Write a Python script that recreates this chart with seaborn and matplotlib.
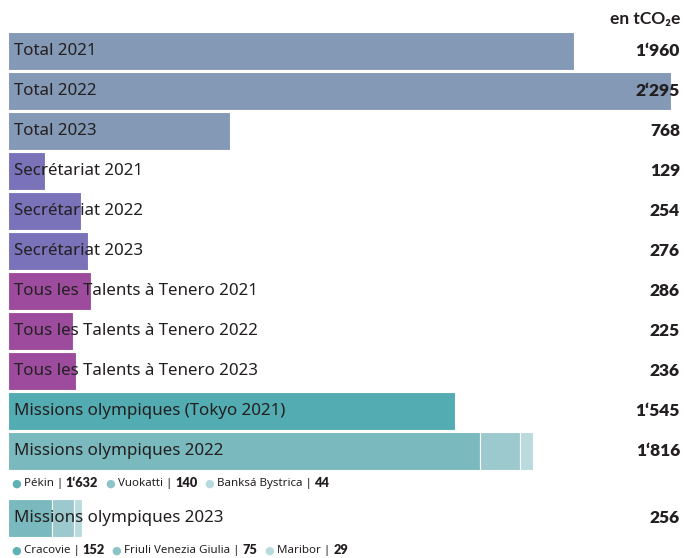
import matplotlib
matplotlib.use("Agg")
import matplotlib.pyplot as plt
import matplotlib.transforms as mtransforms
import seaborn as sns
import pandas as pd
import numpy as np

# ---- data ----
labels = [
    "Total 2021", "Total 2022", "Total 2023",
    "Secrétariat 2021", "Secrétariat 2022", "Secrétariat 2023",
    "Tous les Talents à Tenero 2021", "Tous les Talents à Tenero 2022",
    "Tous les Talents à Tenero 2023",
    "Missions olympiques (Tokyo 2021)", "Missions olympiques 2022",
    "Missions olympiques 2023",
]
totals = [1960, 2295, 768, 129, 254, 276, 286, 225, 236, 1545, 1816, 256]
value_texts = ["1‘960", "2‘295", "768", "129", "254", "276", "286", "225",
               "236", "1‘545", "1‘816", "256"]
groups = ["Total"] * 3 + ["Secrétariat"] * 3 + ["Talents"] * 3 + ["Tokyo", "M2022", "M2023"]

m2022_names = ["Pékin", "Vuokatti", "Banksá Bystrica"]
m2022_values = [1632, 140, 44]
m2022_texts = ["1‘632", "140", "44"]
m2023_names = ["Cracovie", "Friuli Venezia Giulia", "Maribor"]
m2023_values = [152, 75, 29]
m2023_texts = ["152", "75", "29"]

unit_label = "en tCO₂e"

# ---- styling ----
sns.set_theme(style="white")
plt.rcParams["font.family"] = ["Noto Sans", "DejaVu Sans"]
BOLD = ["Lato", "DejaVu Sans"]

row_pos = [0, 1, 2, 3, 4, 5, 6, 7, 8, 9, 10, 11.675]
legend_pos = [10.825, 12.5]
header_pos = -0.8

group_colors = {
    "Total": "#8499b6",
    "Secrétariat": "#7a73b9",
    "Talents": "#9d4c9d",
    "Tokyo": "#52acb2",
    "M2022": "#7ab9bd",
    "M2023": "#7ab9bd",
}
seg_colors = ["#7ab9bd", "#9cc9cd", "#badbde"]
dot_colors = ["#5fb1b6", "#8cc3c7", "#b8dade"]
text_dark = "#231f20"

fig = plt.figure(figsize=(6.84, 5.58), dpi=100)
ax = fig.add_axes([0, 0, 1, 1])

# main bars (non-stacked rows) via seaborn
df = pd.DataFrame({"y": row_pos, "value": totals, "group": groups, "label": labels})
df_main = df.iloc[:10]
sns.barplot(data=df_main, x="value", y="y", hue="group", palette=group_colors,
            orient="y", native_scale=True, width=0.93, dodge=False, saturation=1,
            edgecolor="white", linewidth=0.8, legend=False, ax=ax)

# stacked rows
for ypos, vals in [(row_pos[10], m2022_values), (row_pos[11], m2023_values)]:
    left = 0
    for v, c in zip(vals, seg_colors):
        ax.barh(ypos, v, left=left, height=0.93, color=c, edgecolor="white", linewidth=0.8)
        left += v

s = 0.289  # px per unit
ax.set_xlim(-8 / s, 676 / s)
ax.set_ylim(12.675, -1.275)
ax.axis("off")

trans = mtransforms.blended_transform_factory(ax.transAxes, ax.transData)
for lab, vt, yp in zip(labels, value_texts, row_pos):
    ax.text(14 / 684, yp, lab, transform=trans, ha="left", va="center",
            fontsize=12.2, color=text_dark)
    ax.text(680 / 684, yp, vt, transform=trans, ha="right", va="center",
            fontsize=12.5, fontweight="heavy", color=text_dark, family=BOLD)

ax.text(680 / 684, header_pos, unit_label, transform=trans, ha="right", va="center",
        fontsize=12.5, fontweight="bold", color=text_dark, family=BOLD)

# legends under stacked rows
def draw_legend(ypos, names, texts):
    prev = None
    for i, (n, t) in enumerate(zip(names, texts)):
        if prev is None:
            dot = ax.text(11 / 684, ypos, "●", transform=trans, ha="left", va="center",
                          fontsize=8, color=dot_colors[i], family=["DejaVu Sans"])
        else:
            dot = ax.annotate("●", xy=(1, 0), xycoords=prev, xytext=(5, 0),
                              textcoords="offset points", ha="left", va="bottom",
                              fontsize=8, color=dot_colors[i], family=["DejaVu Sans"])
        nm = ax.annotate(n + " | ", xy=(1, 0), xycoords=dot, xytext=(2, 0),
                         textcoords="offset points", ha="left", va="bottom",
                         fontsize=8.3, color=text_dark)
        val = ax.annotate(t, xy=(1, 0), xycoords=nm, xytext=(0, 0),
                          textcoords="offset points", ha="left", va="bottom",
                          fontsize=9.2, fontweight="heavy", color=text_dark, family=BOLD)
        prev = val

draw_legend(legend_pos[0], m2022_names, m2022_texts)
draw_legend(legend_pos[1], m2023_names, m2023_texts)

fig.savefig("out.png", dpi=100)
